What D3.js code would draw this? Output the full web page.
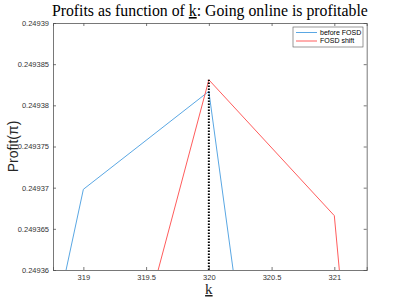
<!DOCTYPE html>
<html><head><meta charset="utf-8">
<script src="https://cdn.jsdelivr.net/npm/d3@7"></script>
<style>body{margin:0;background:#fff}svg{display:block}</style>
</head><body>
<svg id="c" width="405" height="304"></svg>
<script>
const kBefore = [318, 319, 320, 321];
const profitBefore = [0.2492987, 0.2493698, 0.2493817, 0.2492695];
const kShift = [319, 320, 321, 322];
const profitShift = [0.2493259, 0.2493831, 0.2493666, 0.2492012];
const xTicks = [319, 319.5, 320, 320.5, 321];
const yTicks = [0.24936, 0.249365, 0.24937, 0.249375, 0.24938, 0.249385, 0.24939];
const yTickLabels = ["0.24936", "0.249365", "0.24937", "0.249375", "0.24938", "0.249385", "0.24939"];
const markK = 320;
const series = [
  {name: "before FOSD", k: kBefore, v: profitBefore, color: "#5aa7e3"},
  {name: "FOSD shift", k: kShift, v: profitShift, color: "#ff5c5c"}
];

const L = 53, R = 366.7, T = 23, B = 270;
const svg = d3.select("#c");
const x = d3.scaleLinear().domain([318.758, 321.258]).range([L, R]);
const y = d3.scaleLinear().domain([0.24936, 0.24939]).range([B, T]);
const axisColor = "#555";
const sans = "'Liberation Sans', Arial, sans-serif";

svg.append("defs").append("clipPath").attr("id", "clip")
  .append("rect").attr("x", L).attr("y", T).attr("width", R - L).attr("height", B - T);

const g = svg.append("g").attr("clip-path", "url(#clip)");
const line = d3.line().x(d => x(d[0])).y(d => y(d[1]));
series.forEach(s => {
  g.append("path").datum(s.k.map((k, i) => [k, s.v[i]]))
    .attr("d", line).attr("fill", "none").attr("stroke", s.color).attr("stroke-width", 1);
});
const peak = profitShift[kShift.indexOf(markK)];
g.append("line").attr("x1", x(markK)).attr("x2", x(markK))
  .attr("y1", y(0.24936)).attr("y2", y(peak))
  .attr("stroke", "#000").attr("stroke-width", 2).attr("stroke-dasharray", "1.5,1.5");

// axes
const xa = svg.append("g").attr("transform", `translate(0,${B})`)
  .call(d3.axisBottom(x).tickValues(xTicks).tickSize(-3).tickPadding(5).tickFormat(d3.format("")));
const xt = svg.append("g").attr("transform", `translate(0,${T})`)
  .call(d3.axisTop(x).tickValues(xTicks).tickSize(-3).tickFormat(""));
const ya = svg.append("g").attr("transform", `translate(${L},0)`)
  .call(d3.axisLeft(y).tickValues(yTicks).tickSize(-3).tickPadding(4).tickFormat((d, i) => yTickLabels[i]));
const yr = svg.append("g").attr("transform", `translate(${R},0)`)
  .call(d3.axisRight(y).tickValues(yTicks).tickSize(-3).tickFormat(""));
[xa, xt, ya, yr].forEach(a => {
  a.select(".domain").attr("stroke", axisColor).attr("stroke-width", 0.8);
  a.selectAll(".tick line").attr("stroke", axisColor).attr("stroke-width", 0.8);
  a.selectAll("text").attr("fill", "#333").attr("font-family", sans).attr("font-size", 7.5);
});

// title
const title = svg.append("text").attr("x", (L + R) / 2).attr("y", 16).attr("text-anchor", "middle")
  .attr("font-family", "'Liberation Serif', 'Times New Roman', serif").attr("font-size", 15.8).attr("fill", "#000");
title.append("tspan").text("Profits as function of ");
title.append("tspan").attr("text-decoration", "underline").text("k");
title.append("tspan").text(": Going online is profitable");

// x label
svg.append("text").attr("x", x(320)).attr("y", 294).attr("text-anchor", "middle")
  .attr("font-family", "'Liberation Serif', serif").attr("font-size", 15).attr("fill", "#222")
  .attr("text-decoration", "underline").text("k");

// y label
svg.append("text").attr("transform", `translate(18,${(T + B) / 2}) rotate(-90)`)
  .attr("text-anchor", "middle").attr("font-family", sans).attr("font-size", 14).attr("fill", "#262626")
  .text("Profit(π)");

// legend
const lg = svg.append("g");
lg.append("rect").attr("x", 293).attr("y", 27).attr("width", 70).attr("height", 20)
  .attr("fill", "#fff").attr("stroke", axisColor).attr("stroke-width", 0.6);
series.forEach((s, i) => {
  const yy = 32.5 + i * 8.5;
  lg.append("line").attr("x1", 296).attr("x2", 317).attr("y1", yy).attr("y2", yy)
    .attr("stroke", s.color).attr("stroke-width", 1);
  lg.append("text").attr("x", 320).attr("y", yy).attr("dy", "0.35em")
    .attr("font-family", sans).attr("font-size", 7).attr("fill", "#000").text(s.name);
});
</script>
</body></html>
